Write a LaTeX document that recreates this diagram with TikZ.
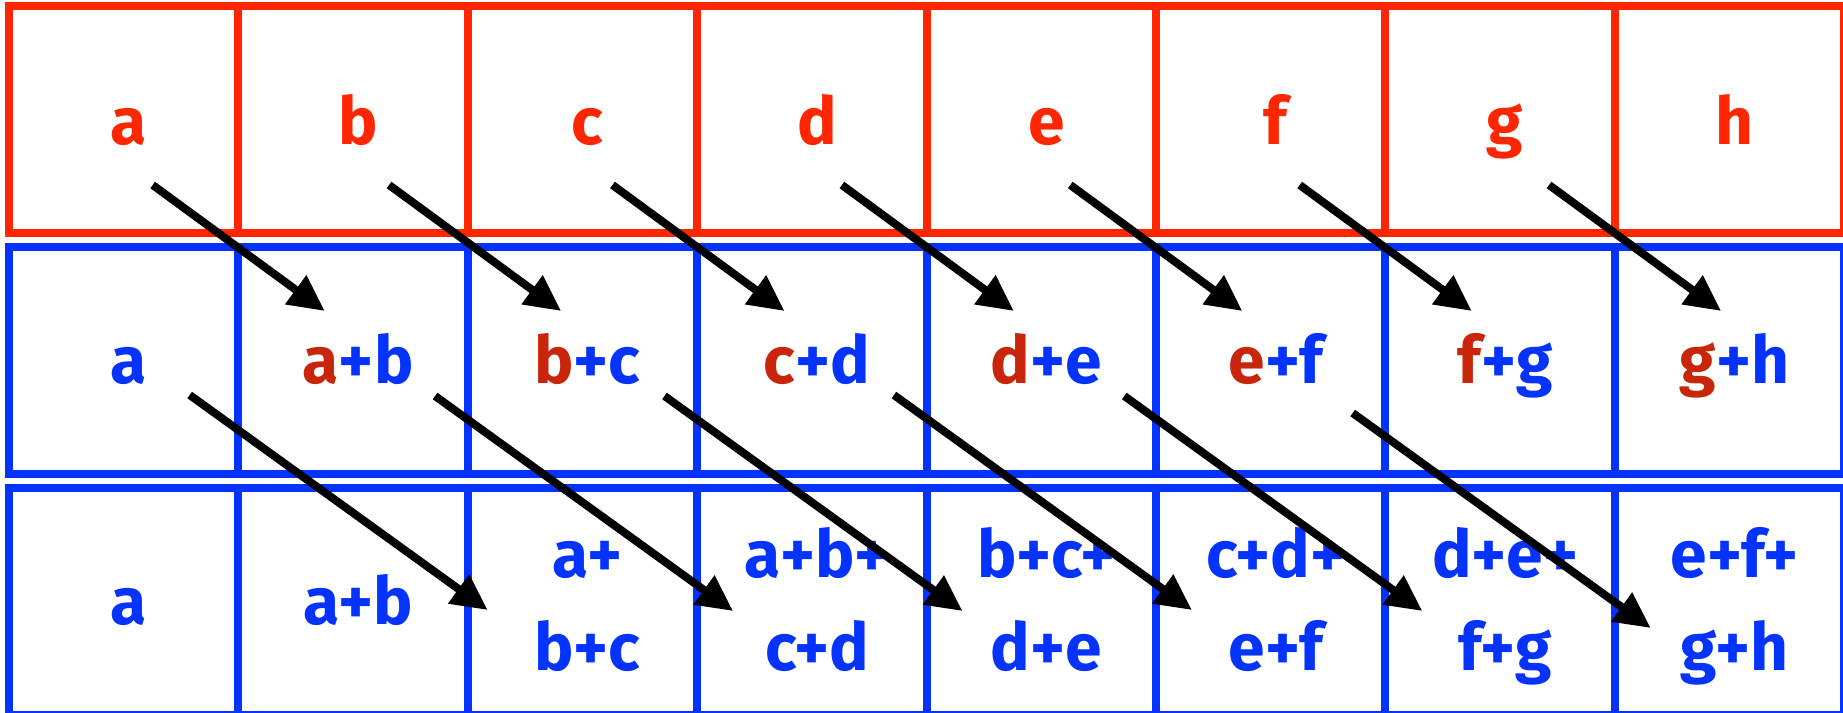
\documentclass[tikz,border=0pt]{standalone}
\usepackage{fontspec}
\setmainfont{Fira Sans}
\usepackage{xcolor}
\usepackage{tikz}
\usetikzlibrary{arrows.meta}
\definecolor{sumred}{HTML}{FF2600}
\definecolor{sumblue}{HTML}{0433FF}
\definecolor{darkred}{HTML}{C8250A}

\tikzset{
  cell/.style={draw, line width=8pt, minimum width=229.4pt, minimum height=227pt, inner sep=0pt},
  lbl/.style={font=\fontsize{66}{93}\selectfont\bfseries, inner sep=0pt,
              text height=46pt, text depth=0pt},
  twolines/.style={align=center, text height=139pt},
  carry/.style={line width=8pt, -{Triangle[length=36pt, width=34pt]}}
}

\begin{document}
\begin{tikzpicture}[x=1pt, y=-1pt]
  \useasboundingbox (0,0) rectangle (1843,712);

  % the three rows of cells
  \foreach \i in {1,...,8} {
    \node[cell, draw=sumred] (in\i) at ({123.7+229.4*(\i-1)},119) {};
    \node[cell, draw=sumblue] (one\i) at ({123.7+229.4*(\i-1)},360) {};
    \node[cell, draw=sumblue] (two\i) at ({123.7+229.4*(\i-1)},601) {};
  }

  % input values
  \foreach \l [count=\i] in {a,b,c,d,e,f,g,h}
    \node[lbl, text=sumred] (t-in\i) at ([xshift=5pt, yshift=-2pt]in\i.center) {\l};

  % first pass
  \node[lbl, text=sumblue] (t-one1) at ([xshift=5pt]one1.center) {a};
  \foreach \p/\l [count=\i from 2] in {a/b,b/c,c/d,d/e,e/f,f/g,g/h}
    \node[lbl, text=sumblue] (t-one\i) at ([xshift=5pt]one\i.center) {\textcolor{darkred}{\p}+\l};

  % second pass
  \node[lbl, text=sumblue] (t-two1) at ([xshift=5pt]two1.center) {a};
  \node[lbl, text=sumblue] (t-two2) at ([xshift=5pt]two2.center) {a+b};
  \foreach \s/\l [count=\i from 3] in {a+/b+c,a+b+/c+d,b+c+/d+e,c+d+/e+f,d+e+/f+g,e+f+/g+h}
    \node[lbl, twolines, text=sumblue] (t-two\i) at ([xshift=5pt]two\i.center) {\s\\\l};

  % arrows, stride 1
  \foreach \dx [count=\i] in {29,36,30,30,29,29,49} {
    \pgfmathtruncatemacro\j{\i+1}
    \coordinate (from-in\i) at ([shift={(\dx,66)}]in\i.center);
    \coordinate (to-one\j) at ([shift={(\dx-57.4,-49)}]one\j.center);
    \draw[carry] (from-in\i) -- (to-one\j);
  }

  % arrows, stride 2
  \foreach \dx/\dy [count=\i] in {66/35,82/36,82/36,82/35,83/36,82/53} {
    \pgfmathtruncatemacro\j{\i+2}
    \coordinate (from-one\i) at ([shift={(\dx,\dy)}]one\i.center);
    \coordinate (to-two\j) at ([shift={(\dx-160.8,\dy-26)}]two\j.center);
    \draw[carry] (from-one\i) -- (to-two\j);
  }
\end{tikzpicture}
\end{document}
